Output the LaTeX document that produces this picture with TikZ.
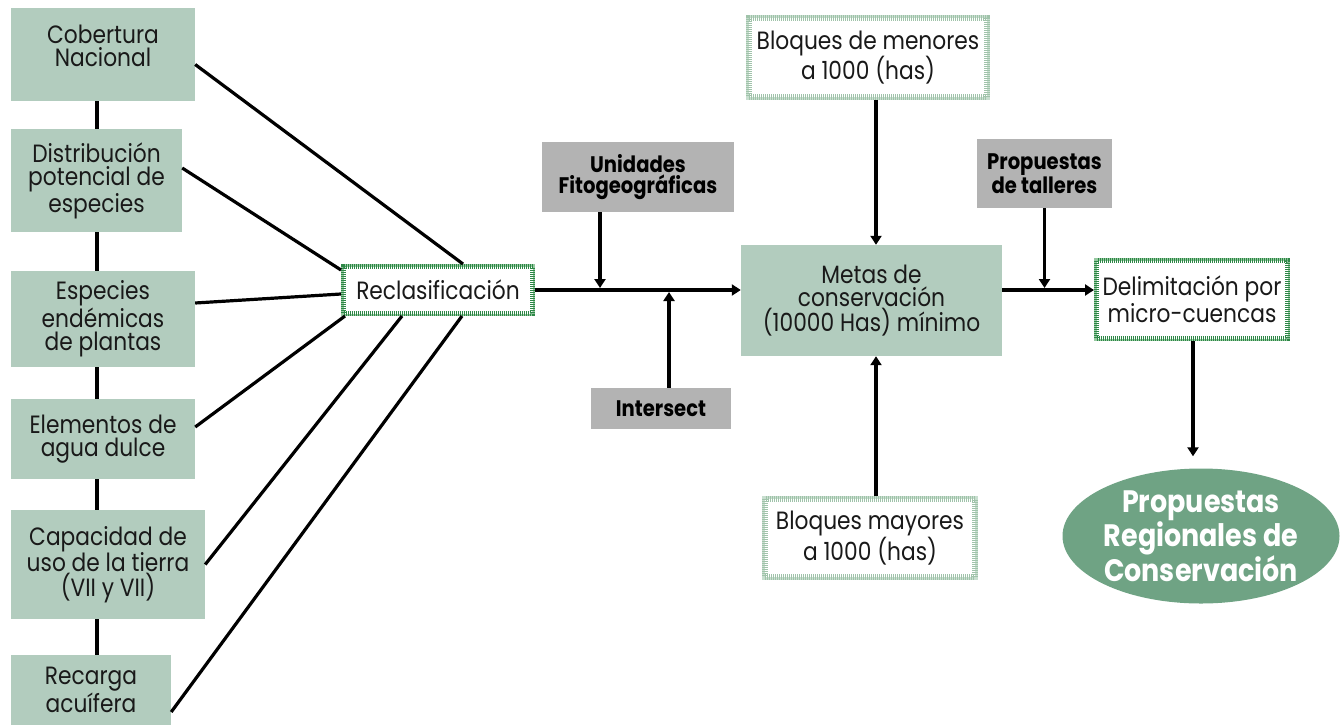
\documentclass[tikz,border=0pt]{standalone}
\usepackage{fontspec}
\setmainfont{Poppins}[FakeStretch=0.87]
\usetikzlibrary{arrows.meta,shapes.geometric,calc}
\definecolor{boxg}{RGB}{178,204,190}
\definecolor{greyb}{RGB}{179,179,179}
\definecolor{ellg}{RGB}{111,163,132}
\definecolor{darkstripe}{RGB}{45,135,70}
\definecolor{darkbase}{RGB}{150,200,160}
\definecolor{lightstripe}{RGB}{160,195,170}
\definecolor{lightbase}{RGB}{200,222,207}
\begin{document}
\begin{tikzpicture}[x=1pt,y=-1pt,
  txt/.style={align=center, inner sep=0pt, text=black!90, font=\fontsize{25}{23.5}\selectfont},
  box/.style={txt, fill=boxg},
  greybox/.style={align=center, inner sep=0pt, fill=greyb, text=black, font=\fontsize{22.5}{21.5}\selectfont\bfseries},
  darkframe/.style={txt, fill=white, preaction={draw=darkbase, line width=5pt, solid}, draw=darkstripe, line width=5pt, dash pattern=on 1pt off 1pt},
  lightframe/.style={txt, fill=white, preaction={draw=lightbase, line width=6pt, solid}, draw=lightstripe, line width=6pt, dash pattern=on 1pt off 1pt},
  ln/.style={line width=3.2pt, black},
  arr/.style={line width=3.2pt, black, -{Triangle[length=9pt,width=11pt]}}
]
\useasboundingbox (0,0) rectangle (1343,726);

% spine of left column
\coordinate (sTop) at (97,101);
\coordinate (sBot) at (97,655);
\draw[ln] (sTop) -- (sBot);

% left column
\node[box, minimum width=184pt, minimum height=93pt] (cob) at (103,54.5) {Cobertura\\Nacional\\[-6pt]\mbox{}};
\node[box, minimum width=171pt, minimum height=103pt] (dist) at (96.5,180.5) {Distribución\\potencial de\\especies};
\node[box, minimum width=184pt, minimum height=96pt] (esp) at (103,319) {Especies\\endémicas\\de plantas};
\node[box, minimum width=184pt, minimum height=80pt] (ele) at (103,439) {Elementos de\\agua dulce};
\node[box, minimum width=194pt, minimum height=109pt] (cap) at (108,564.5) {Capacidad de\\uso de la tierra\\(VII y VII)};
\node[box, minimum width=160pt, minimum height=70pt] (rec) at (91,690) {Recarga\\acuífera};

% Reclasificacion
\node[darkframe, minimum width=189pt, minimum height=47pt] (rcl) at (438,290) {Reclasificación};

% lines into Reclasificacion
\draw[ln] ([yshift=-10pt]cob.east) -- ([xshift=25pt]rcl.north);
\draw[ln] ([yshift=12.5pt]dist.east) -- ([yshift=20pt]rcl.west);
\draw[ln] ([yshift=16pt]esp.east) -- ([yshift=-4pt]rcl.west);
\draw[ln] ([yshift=12pt]ele.east) -- ([xshift=4pt]rcl.south west);
\draw[ln] (cap.east) -- ([xshift=-36pt]rcl.south);
\draw[ln] ([yshift=-22pt]rec.east) -- ([xshift=24pt]rcl.south);

% middle
\node[greybox, minimum width=192pt, minimum height=70pt] (uni) at (638,177) {Unidades\\Fitogeográficas};
\node[greybox, minimum width=140pt, minimum height=41pt] (int) at (661,408.5) {Intersect};
\node[box, minimum width=261pt, minimum height=111pt] (metas) at (871.5,300.5) {Metas de\\conservación\\(10000 Has) mínimo};
\node[lightframe, minimum width=238pt, minimum height=79pt] (bmen) at (868,57.5) {Bloques de menores\\a 1000 (has)};
\node[lightframe, minimum width=210pt, minimum height=78pt] (bmay) at (870,538) {Bloques mayores\\a 1000 (has)};
\node[greybox, minimum width=135pt, minimum height=69pt] (tal) at (1044.5,173.5) {Propuestas\\de talleres};
\node[darkframe, minimum width=191pt, minimum height=78pt] (deli) at (1192,299.5) {Delimitación por\\micro-cuencas};
\node[ellipse, fill=ellg, minimum width=277pt, minimum height=135pt, inner sep=0pt, text=white, align=center, font=\fontsize{31}{21}\selectfont\bfseries] (ell) at (1201,536) {Propuestas\\Regionales de\\Conservación};

% arrows
\draw[arr] (rcl.east) -- (rcl.east -| metas.west);
\draw[arr, shorten >=2pt] ([xshift=-38pt]uni.south) -- ([xshift=-38pt]uni.south |- rcl.east);
\draw[arr, shorten >=2pt] ([xshift=8pt]int.north) -- ([xshift=8pt]int.north |- rcl.east);
\draw[arr] ([xshift=8pt]bmen.south) -- ([xshift=8pt]bmen.south |- metas.north);
\draw[arr] ([xshift=6pt]bmay.north) -- ([xshift=6pt]bmay.north |- metas.south);
\draw[arr, shorten >=2pt] (tal.south) -- (tal.south |- rcl.east);
\draw[arr] (metas.east |- rcl.east) -- (deli.west |- rcl.east);
\draw[arr, shorten >=12pt] ([xshift=1pt]deli.south) -- ([xshift=1pt]deli.south |- ell.north);
\end{tikzpicture}
\end{document}
